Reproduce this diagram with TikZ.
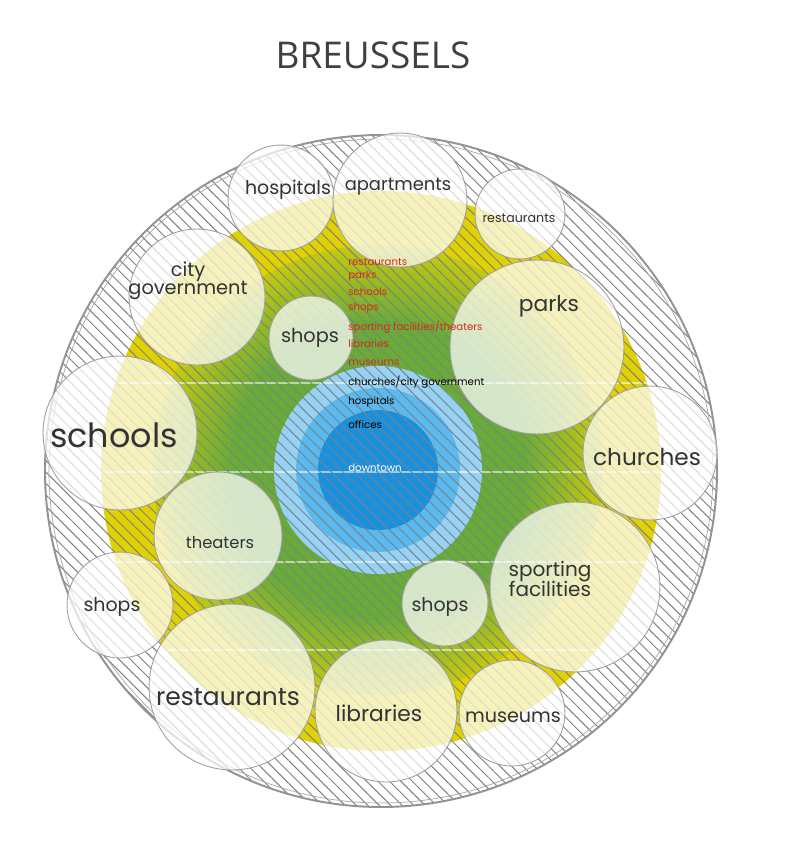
\documentclass[tikz,border=0pt]{standalone}
\usepackage{fontspec}
\setmainfont{Poppins}
\newfontfamily\titlefont{Open Sans}
\usetikzlibrary{patterns.meta}

\definecolor{ringyellow}{RGB}{224,210,0}
\definecolor{leafgreen}{RGB}{104,172,56}
\definecolor{paleblue}{RGB}{150,210,246}
\definecolor{midblue}{RGB}{88,186,240}
\definecolor{deepblue}{RGB}{24,144,224}
\definecolor{listred}{RGB}{214,40,30}

\tikzset{
  zone/.style={circle, draw=gray!75, line width=0.5pt, fill=white, fill opacity=0.72, minimum size=#1*0.04cm, inner sep=0pt},
  lbl/.style={font=\fontsize{#1}{#1}\selectfont, text=black!80, align=center, inner sep=0pt},
  listline/.style={font=\fontsize{5.8}{6}\selectfont, anchor=west, inner sep=0pt}
}

\begin{document}
\begin{tikzpicture}[x=0.02cm, y=-0.02cm]
  \useasboundingbox[fill=white] (0,0) rectangle (800,849);
  \coordinate (mid) at (381,471);
  \coordinate (core) at (378,470);

  \fill[white] (mid) circle (336);
  \fill[ringyellow] (mid) circle (280);
  \foreach \i in {0,...,20} {
    \pgfmathtruncatemacro\r{225-5*\i}
    \pgfmathtruncatemacro\m{min(100,25+5*\i)}
    \fill[leafgreen!\m!ringyellow] (core) circle (\r);
  }
  \fill[paleblue] (core) circle (104);
  \fill[midblue] (core) circle (82);
  \fill[deepblue] (core) circle (60);

  \begin{scope}
    \clip (mid) circle (280);
    \foreach \y in {383,472,562,650}
      \draw[white, opacity=0.55, line width=0.7pt] (60,\y) -- (700,\y);
  \end{scope}

  \fill[pattern={Lines[angle=-45, distance=4.6pt, line width=0.55pt]}, pattern color=black!50] (mid) circle (336);
  \draw[gray!85, line width=1.1pt] (mid) circle (336);
  \draw[gray!70, line width=0.4pt] (mid) circle (332);

  \node[zone=53] (hosp) at (281,198) {};
  \node[zone=67] (apart) at (400,200) {};
  \node[zone=45] (resttop) at (520,214) {};
  \node[zone=68] (citygov) at (197,297) {};
  \node[zone=42] (shopstop) at (311,338) {};
  \node[zone=87] (parks) at (537,347) {};
  \node[zone=77] (schools) at (120,433) {};
  \node[zone=67] (churches) at (650,453) {};
  \node[zone=64] (theaters) at (218,536) {};
  \node[zone=53] (shopsleft) at (120,605) {};
  \node[zone=85] (sporting) at (575,587) {};
  \node[zone=43] (shopsbot) at (445,603) {};
  \node[zone=83] (restbot) at (232,687) {};
  \node[zone=71] (libs) at (386,711) {};
  \node[zone=53] (museums) at (512,713) {};

  \node[lbl=10.8] (hosp-l) at (288,190) {hospitals};
  \node[lbl=10.2] (apart-l) at (398,187) {apartments};
  \node[lbl=7.2] (resttop-l) at (519,218) {restaurants};
  \node[lbl=11] (citygov-l) at (188,281) {city\\[-1pt]government};
  \node[lbl=11] (shopstop-l) at (310,338) {shops};
  \node[lbl=12.4] (parks-l) at (549,306) {parks};
  \node[lbl=19] (schools-l) at (114,435) {schools};
  \node[lbl=13.2] (churches-l) at (647,457) {churches};
  \node[lbl=9.3] (theaters-l) at (220,543) {theaters};
  \node[lbl=10.8] (shopsleft-l) at (112,607) {shops};
  \node[lbl=11.4] (sporting-l) at (550,579) {sporting\\[-1pt]facilities};
  \node[lbl=10.8] (shopsbot-l) at (440,607) {shops};
  \node[lbl=14.2] (restbot-l) at (228,697) {restaurants};
  \node[lbl=12.4] (libs-l) at (379,713) {libraries};
  \node[lbl=10.9] (museums-l) at (513,717) {museums};

  \node[listline, text=listred] (list1) at (348,262) {restaurants};
  \node[listline, text=listred] (list2) at (348,276) {parks};
  \node[listline, text=listred] (list3) at (348,292) {schools};
  \node[listline, text=listred] (list4) at (348,308) {shops};
  \node[listline, text=listred] (list5) at (348,327) {sporting facilities/theaters};
  \node[listline, text=listred] (list6) at (348,344) {libraries};
  \node[listline, text=listred] (list7) at (348,363) {museums};
  \node[listline, text=black] (list8) at (348,382) {churches/city government};
  \node[listline, text=black] (list9) at (348,402) {hospitals};
  \node[listline, text=black] (list10) at (348,425) {offices};
  \node[listline, text=white] (list11) at (348,468) {downtown};

  \node[font=\titlefont\fontsize{21}{21}\selectfont, text=black!75] (title) at (373,55) {BREUSSELS};
\end{tikzpicture}
\end{document}
